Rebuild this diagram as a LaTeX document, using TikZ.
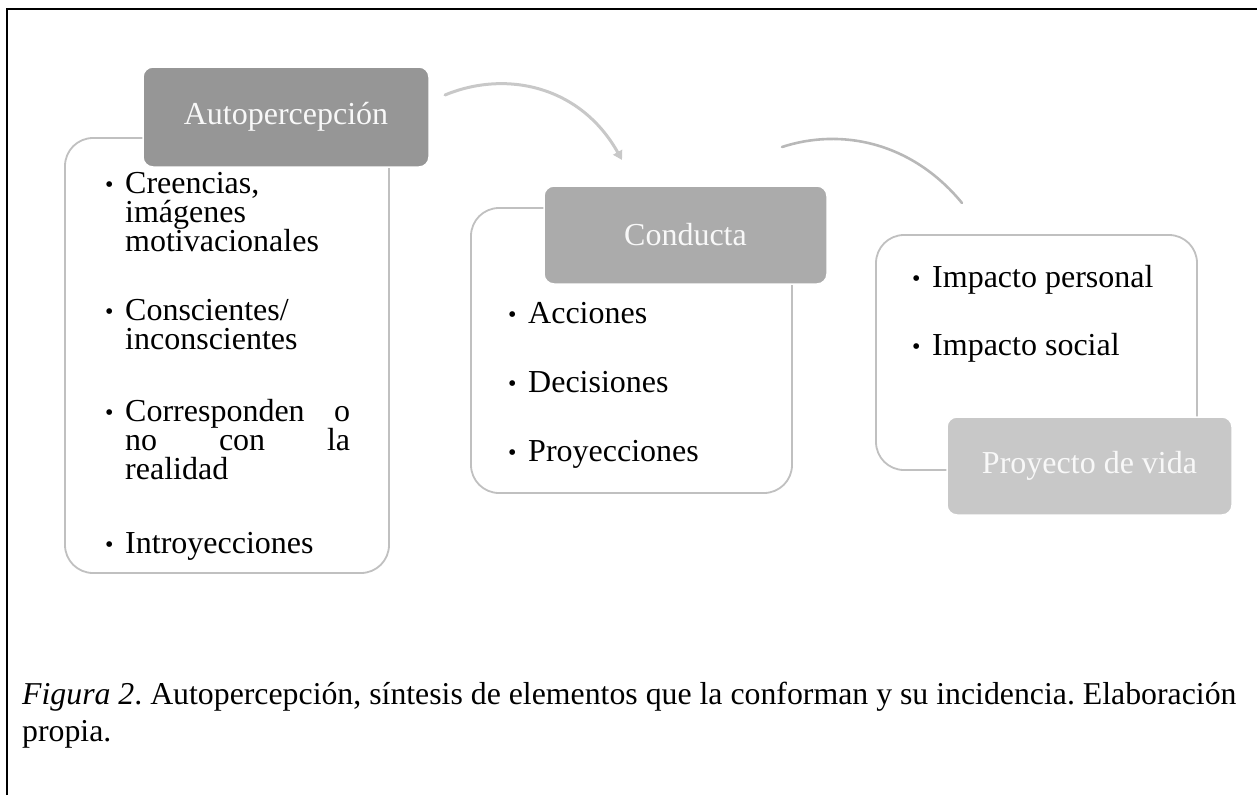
\documentclass[tikz,border=0pt]{standalone}
\usepackage{fontspec}
\setmainfont{Liberation Serif}
\usetikzlibrary{arrows.meta}
\definecolor{hdrA}{HTML}{969696}
\definecolor{hdrB}{HTML}{ABABAB}
\definecolor{hdrC}{HTML}{C8C8C8}
\definecolor{boxline}{HTML}{C0C0C0}
\definecolor{arrA}{HTML}{C8C8C8}
\definecolor{arrB}{HTML}{B8B8B8}
\definecolor{hdrtext}{HTML}{F8F8F8}
\newcommand\listfont{\fontsize{32}{29}\selectfont\lineskiplimit=-100pt\relax}
\newcommand\smallbullet{\raisebox{1pt}{\fontsize{24}{24}\selectfont\textbullet}}
\newcommand\bitem[2][225pt]{\makebox[20pt][l]{\smallbullet}\parbox[t]{#1}{\listfont #2}}
\frenchspacing
\begin{document}
\begin{tikzpicture}[x=1pt,y=-1pt,
  listbox/.style={draw=boxline, line width=1.8pt, rounded corners=28pt, fill=white, inner sep=0},
  hdrbox/.style={draw=white, line width=1.5pt, rounded corners=10pt, inner sep=0,
     text=hdrtext, font=\fontsize{32}{36}\selectfont},
  listitem/.style={anchor=base west, inner sep=0, font=\listfont, align=left},
  arrowline/.style={line width=3pt, line cap=round}]
\useasboundingbox (0,0) rectangle (1257,795);
% outer frame
\draw[line width=2.2pt] (7,795) -- (7,9) -- (1257,9);

% list boxes
\node[listbox, minimum width=324pt, minimum height=435pt] (L1) at (227,355.5) {};
\node[listbox, minimum width=321pt, minimum height=285pt] (L2) at (631.5,350.5) {};
\node[listbox, minimum width=321pt, minimum height=235pt] (L3) at (1036.5,352.5) {};

% headers
\node[hdrbox, fill=hdrA, minimum width=286pt, minimum height=100pt] (H1) at (286,117) {Autopercepción};
\node[hdrbox, fill=hdrB, minimum width=283pt, minimum height=98pt] (H2) at (685.5,235) {Conducta};
\node[hdrbox, fill=hdrC, minimum width=285pt, minimum height=98pt] (H3) at (1089.5,466) {Proyecto de vida};

% items box 1
\node[listitem] (i1) at (105,193) {\bitem{Creencias,\\ imágenes\\ motivacionales}};
\node[listitem] (i2) at (105,320) {\bitem{Conscientes/\\ inconscientes}};
\node[listitem] (i3) at (105,421) {\bitem{Corresponden\hfill o\\ no\hfill con\hfill la\\ realidad}};
\node[listitem] (i4) at (105,553) {\bitem{Introyecciones}};

% items box 2
\node[listitem] (c1) at (508,323) {\bitem{Acciones}};
\node[listitem] (c2) at (508,392) {\bitem{Decisiones}};
\node[listitem] (c3) at (508,461) {\bitem{Proyecciones}};

% items box 3
\node[listitem] (p1) at (912,287) {\bitem{Impacto personal}};
\node[listitem] (p2) at (912,355) {\bitem{Impacto social}};

% arrows
\coordinate (a1s) at (445,95);
\coordinate (a1e) at (622,160);
\draw[arrowline, draw=arrA, -{Triangle[length=9pt,width=10pt]}] (a1s) .. controls (505,70) and (580,85) .. (a1e);
\coordinate (a2s) at (782,147);
\coordinate (a2e) at (962,203);
\draw[arrowline, draw=arrB, line width=2.6pt] (a2s) .. controls (840,128) and (911,141) .. (a2e);

% caption
\node[anchor=base west, inner sep=0, align=left, font=\fontsize{31.8}{36.8}\selectfont] (cap) at (22,741)
  {\textit{Figura 2}. Autopercepción, síntesis de elementos que la conforman y su incidencia. Elaboración\\ propia.};
\end{tikzpicture}
\end{document}
